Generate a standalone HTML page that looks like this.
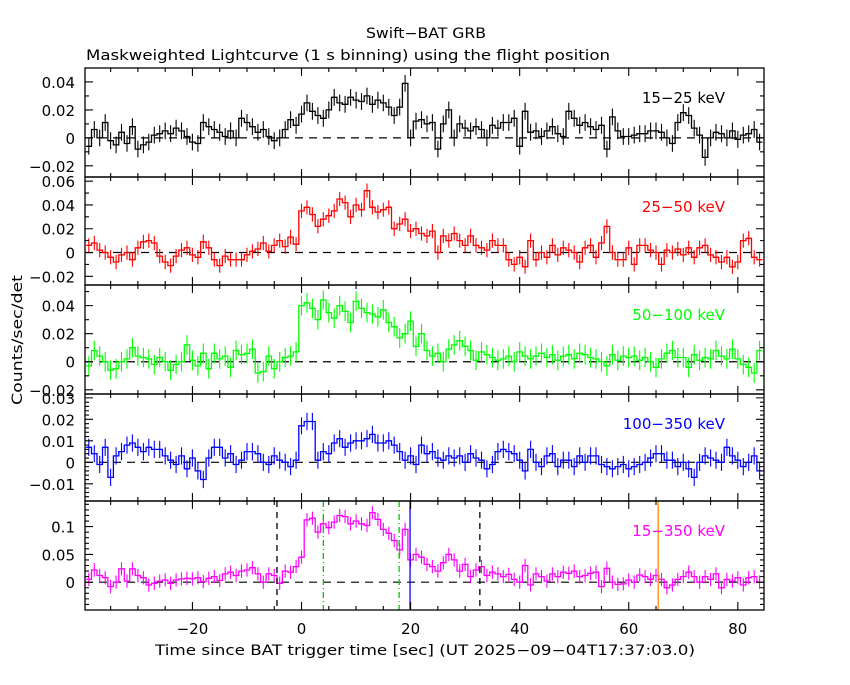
<!DOCTYPE html>
<html><head><meta charset="utf-8"><style>
body{margin:0;background:#fff;}
svg text{font-family:"DejaVu Sans","Liberation Sans",sans-serif;}
</style></head><body>
<svg id="chart" width="850" height="680" xmlns="http://www.w3.org/2000/svg">
<rect width="850" height="680" fill="#fff"/>
<text x="426" y="38" text-anchor="middle" font-size="14" textLength="120" lengthAdjust="spacingAndGlyphs">Swift−BAT GRB</text>
<text x="86" y="60" font-size="14" textLength="524" lengthAdjust="spacingAndGlyphs">Maskweighted Lightcurve (1 s binning) using the flight position</text>
<text transform="translate(22,340) rotate(-90)" text-anchor="middle" font-size="14" textLength="130" lengthAdjust="spacingAndGlyphs">Counts/sec/det</text>
<text x="425" y="655" text-anchor="middle" font-size="14" textLength="540" lengthAdjust="spacingAndGlyphs">Time since BAT trigger time [sec] (UT 2025−09−04T17:37:03.0)</text>
<g id="g"></g>
</svg>
<script>
const times=[];for(let t=-39;t<=84;t++)times.push(t);
const xTicks=[-20,0,20,40,60,80];
const band1=[-0.006,0.006,0.000,0.011,-0.002,-0.005,0.004,-0.004,0.008,-0.008,
-0.005,-0.003,0.002,0.003,0.005,0.003,0.007,0.005,0.001,-0.003,
-0.004,0.011,0.008,0.006,0.004,0.001,0.005,0.000,0.014,0.011,
0.008,0.004,0.006,0.001,-0.002,0.000,0.006,0.013,0.009,0.017,
0.025,0.019,0.016,0.014,0.020,0.029,0.025,0.024,0.029,0.027,
0.026,0.030,0.024,0.027,0.025,0.022,0.016,0.022,0.039,0.000,
0.012,0.013,0.010,0.011,-0.008,0.010,0.020,0.000,0.010,0.007,
0.005,0.008,0.006,0.000,0.009,0.007,0.011,0.011,0.014,-0.006,
0.019,0.004,0.005,0.001,0.005,0.008,0.003,0.001,0.019,0.014,
0.009,0.011,0.008,0.006,0.009,-0.008,0.015,0.005,0.001,0.001,
0.002,0.003,0.003,0.005,0.005,0.004,0.000,-0.004,0.011,0.018,
0.016,0.007,0.002,-0.014,0.000,0.004,0.003,0.000,0.005,-0.001,
0.002,0.003,0.006,-0.003];
const band2=[0.006,0.008,0.002,0.000,-0.004,-0.008,-0.002,0.000,-0.006,0.004,
0.009,0.010,0.008,-0.003,-0.008,-0.011,-0.003,0.002,0.004,-0.002,
-0.004,0.009,0.004,-0.006,-0.011,-0.003,-0.006,-0.006,-0.006,-0.002,
0.001,0.003,0.008,0.001,0.006,0.010,0.005,0.013,0.007,0.035,
0.038,0.032,0.022,0.028,0.031,0.035,0.045,0.042,0.030,0.040,
0.036,0.052,0.038,0.034,0.036,0.038,0.020,0.024,0.028,0.018,
0.020,0.016,0.014,0.018,0.000,0.014,0.010,0.016,0.010,0.006,
0.014,0.006,0.004,0.002,0.010,0.006,0.006,-0.006,-0.010,-0.004,
-0.012,0.010,-0.006,0.000,-0.004,0.006,-0.002,0.004,0.002,0.000,
-0.008,0.004,0.006,-0.004,0.008,0.022,0.000,-0.006,-0.006,0.004,
-0.010,0.006,0.006,0.002,0.000,-0.010,0.002,0.000,0.003,-0.002,
0.004,-0.004,0.004,0.006,-0.002,-0.004,-0.008,-0.004,-0.012,-0.008,
0.010,0.012,-0.004,-0.006];
const band3=[-0.003,0.008,0.004,0.000,-0.006,-0.005,0.000,0.002,0.010,0.004,
0.003,0.002,-0.002,0.003,0.000,-0.006,-0.002,0.000,0.012,0.001,
-0.003,0.006,-0.005,0.006,0.002,0.004,-0.004,0.008,0.005,0.006,
0.009,-0.008,-0.007,0.004,-0.005,0.000,0.003,0.004,0.007,0.040,
0.042,0.038,0.030,0.044,0.035,0.031,0.040,0.036,0.028,0.043,
0.038,0.035,0.034,0.032,0.037,0.028,0.025,0.017,0.020,0.029,
0.011,0.020,0.008,0.004,0.006,0.000,0.009,0.012,0.015,0.011,
0.008,0.001,0.007,0.005,0.003,0.001,0.002,0.004,0.000,0.007,
0.004,0.002,0.004,0.006,0.003,0.005,0.001,0.004,0.005,0.002,
0.006,0.005,0.003,0.002,0.000,-0.003,0.005,0.001,0.004,0.003,
0.004,0.001,0.003,0.000,-0.004,0.002,0.006,0.008,0.003,0.003,
-0.004,0.005,0.001,0.003,0.002,0.008,0.004,0.002,0.009,0.002,
-0.002,-0.004,-0.008,0.008];
const band4=[0.007,0.004,-0.001,0.007,-0.007,0.003,0.005,0.008,0.009,0.007,
0.005,0.007,0.006,0.006,0.003,0.001,-0.001,0.003,-0.003,0.002,
-0.004,-0.008,0.002,0.007,0.007,0.002,0.004,-0.001,0.001,0.005,
0.005,0.004,0.000,-0.001,0.003,0.001,0.000,-0.002,0.001,0.017,
0.019,0.019,0.001,0.005,0.004,0.009,0.011,0.007,0.009,0.010,
0.010,0.011,0.013,0.009,0.009,0.010,0.008,0.005,0.001,0.003,
-0.001,0.008,0.004,0.005,0.002,0.001,0.003,0.002,0.003,0.000,
0.004,0.002,0.001,-0.003,-0.001,0.005,0.006,0.005,0.004,0.001,
-0.004,0.006,0.000,-0.002,0.003,0.004,-0.002,0.001,0.001,-0.002,
0.003,0.000,0.003,0.003,-0.001,-0.002,-0.003,-0.002,-0.001,-0.003,
-0.002,-0.001,0.000,0.002,0.004,0.004,0.001,0.001,-0.002,0.000,
-0.003,-0.007,0.000,0.003,0.002,0.001,0.000,0.007,0.003,0.001,
-0.002,0.000,0.003,-0.004];
const band5=[0.005,0.022,0.012,0.008,-0.008,0.000,0.024,0.002,0.024,0.012,
0.008,-0.005,-0.002,0.002,0.004,-0.002,0.004,0.006,0.007,0.006,
0.008,0.001,0.007,0.010,0.003,0.015,0.018,0.012,0.020,0.022,
0.026,0.015,0.000,0.015,0.012,-0.002,0.020,0.018,0.028,0.045,
0.112,0.115,0.090,0.105,0.098,0.108,0.120,0.118,0.105,0.110,
0.105,0.102,0.125,0.113,0.095,0.088,0.075,0.058,0.095,0.040,
0.050,0.045,0.032,0.028,0.020,0.035,0.050,0.040,0.020,0.032,
0.010,0.022,0.028,0.012,0.018,0.015,0.010,0.014,0.005,0.000,
0.030,-0.005,0.015,0.010,0.002,0.015,0.010,0.018,0.016,0.020,
0.010,0.012,0.016,0.018,-0.008,0.025,0.000,-0.004,-0.003,0.004,
0.000,0.013,0.010,0.005,0.012,0.005,-0.010,-0.005,0.005,0.010,
0.018,0.010,0.000,0.010,0.005,0.015,-0.010,0.005,0.002,0.008,
-0.005,0.008,0.010,0.000];
const bandLabels=["15−25 keV","25−50 keV","50−100 keV","100−350 keV","15−350 keV"];
const markerTimes=[-4.5,4.0,17.9,19.9,32.7,65.4];

const NS="http://www.w3.org/2000/svg";
const g=document.getElementById('g');
const X0=85,X1=764,T0=-39.7,T1=84.8;
const xs=t=>X0+(t-T0)/(T1-T0)*(X1-X0);
function mk(tag,a,parent){const e=document.createElementNS(NS,tag);for(const k in a)e.setAttribute(k,a[k]);(parent||g).appendChild(e);return e;}
const panels=[
 {data:band1,top:68,bot:177,lo:-0.028,hi:0.050,maj:0.02,min:0.01,err:0.006,col:"#000",labs:[-0.02,0,0.02,0.04]},
 {data:band2,top:177,bot:285,lo:-0.0273,hi:0.0635,maj:0.02,min:0.01,err:0.006,col:"#f00",labs:[-0.02,0,0.02,0.04,0.06]},
 {data:band3,top:285,bot:394,lo:-0.023,hi:0.0547,maj:0.02,min:0.01,err:0.007,col:"#0f0",labs:[-0.02,0,0.02,0.04]},
 {data:band4,top:394,bot:501,lo:-0.018,hi:0.0318,maj:0.01,min:0.002,err:0.004,col:"#00f",labs:[-0.01,0,0.01,0.02,0.03]},
 {data:band5,top:501,bot:610,lo:-0.05,hi:0.146,maj:0.05,min:0.01,err:0.012,col:"#f0f",labs:[0,0.05,0.1]}
];
function fmt(v){if(Math.abs(v)<1e-9)return"0";let s=String(+v.toFixed(3));return s.replace('-','−');}
panels.forEach((p,pi)=>{
 const ys=v=>p.bot-(v-p.lo)/(p.hi-p.lo)*(p.bot-p.top);
 const pg=mk('g',{});
 
 
 const z=mk('line',{x1:X0,x2:X1,y1:ys(0),y2:ys(0),stroke:"#000","stroke-dasharray":"8,6","stroke-width":1.2},pg);
 
 
 let d="";
 p.data.forEach((v,i)=>{const xa=xs(times[i]-0.5),xb=xs(times[i]+0.5),y=ys(v);d+=(i?"L":"M")+xa.toFixed(1)+","+y.toFixed(1)+"L"+xb.toFixed(1)+","+y.toFixed(1);});
 const s=mk('path',{d:d,fill:"none",stroke:p.col,"stroke-width":1.3},pg);
 
 
 let ed="";
 p.data.forEach((v,i)=>{const x=xs(times[i]);ed+="M"+x.toFixed(1)+","+Math.max(p.top,ys(v+p.err)).toFixed(1)+"L"+x.toFixed(1)+","+Math.min(p.bot,ys(v-p.err)).toFixed(1);});
 const e=mk('path',{d:ed,fill:"none",stroke:p.col,"stroke-width":1.1},pg);
 
 
 if(pi===4){
  const styles=[["#000","6,5"],["#0c0","6,3,1,3"],["#0c0","6,3,1,3"],["#00f",""],["#000","6,5"],["#f80",""]];
  markerTimes.forEach((t,k)=>{const l=mk('line',{x1:xs(t),x2:xs(t),y1:p.top,y2:p.bot,stroke:styles[k][0],"stroke-width":1.3,"stroke-dasharray":styles[k][1]},pg);
   
   });
 }
 const f=mk('rect',{x:X0,y:p.top,width:X1-X0,height:p.bot-p.top,fill:"none",stroke:"#000","stroke-width":1.3},pg);
 
 
 let td="";
 const n0=Math.ceil(p.lo/p.min-1e-6),n1=Math.floor(p.hi/p.min+1e-6);
 for(let n=n0;n<=n1;n++){const v=n*p.min;const r=Math.abs(v/p.maj-Math.round(v/p.maj))<1e-6;const L=r?8:4;const y=ys(v);td+=`M${X0},${y}h${L}M${X1},${y}h${-L}`;}
 for(let t=-35;t<=80;t+=5){const r=t%20===0;const L=r?8:4;const x=xs(t);td+=`M${x},${p.top}v${L}M${x},${p.bot}v${-L}`;}
 const tk=mk('path',{d:td,stroke:"#000","stroke-width":1.1,fill:"none"},pg);
 
 
 p.labs.forEach(v=>{const t=mk('text',{x:75,y:ys(v)+6,"text-anchor":"end","font-size":15},pg);t.textContent=fmt(v);
  
  });
 const bl=mk('text',{x:725,y:p.top+35,"text-anchor":"end","font-size":15,fill:p.col},pg);
 bl.textContent=bandLabels[pi];
 
 
});
xTicks.forEach(t=>{const l=mk('text',{x:xs(t),y:634,"text-anchor":"middle","font-size":15});l.textContent=fmt(t);
 
 });
</script>
</body></html>
